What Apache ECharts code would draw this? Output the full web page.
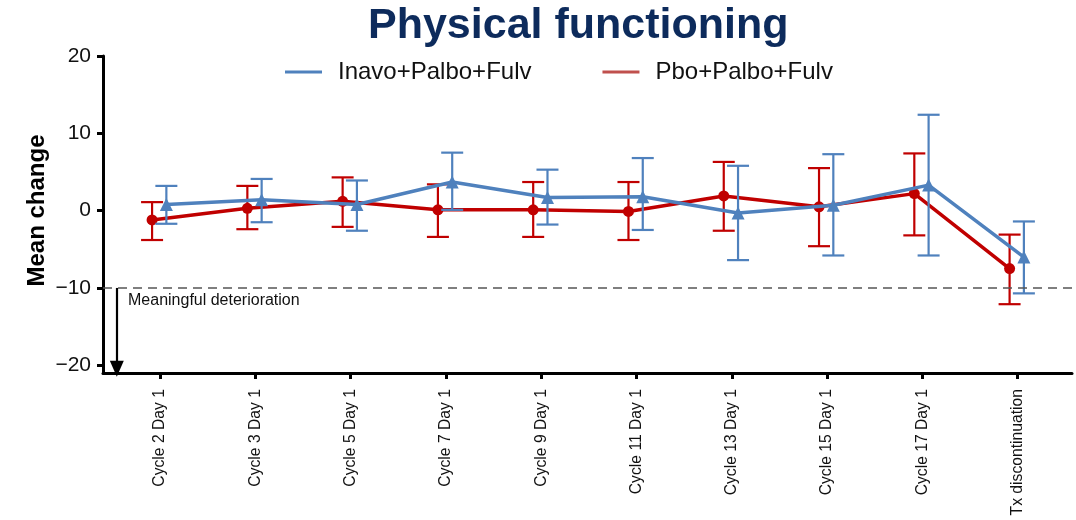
<!DOCTYPE html>
<html>
<head>
<meta charset="utf-8">
<script src="https://cdn.jsdelivr.net/npm/echarts@6/dist/echarts.min.js"></script>
<style>
html,body{margin:0;padding:0;background:#fff;}
#chart{width:1076px;height:520px;}
</style>
</head>
<body>
<div id="chart"></div>
<script>
const categories = ['Cycle 2 Day 1','Cycle 3 Day 1','Cycle 5 Day 1','Cycle 7 Day 1','Cycle 9 Day 1','Cycle 11 Day 1','Cycle 13 Day 1','Cycle 15 Day 1','Cycle 17 Day 1','Tx discontinuation'];
const yTicks = [-20, -10, 0, 10, 20];
const inavoMean = [0.8, 1.4, 0.8, 3.7, 1.7, 1.8, -0.3, 0.7, 3.3, -6.0];
const inavoLow  = [-1.7, -1.5, -2.6, 0.1, -1.8, -2.5, -6.4, -5.8, -5.8, -10.7];
const inavoHigh = [3.2, 4.1, 3.9, 7.5, 5.3, 6.8, 5.8, 7.3, 12.4, -1.4];
const pboMean = [-1.2, 0.3, 1.2, 0.1, 0.1, -0.1, 1.9, 0.5, 2.2, -7.5];
const pboLow  = [-3.8, -2.4, -2.1, -3.4, -3.4, -3.8, -2.6, -4.6, -3.2, -12.1];
const pboHigh = [1.1, 3.2, 4.3, 3.4, 3.7, 3.7, 6.3, 5.5, 7.4, -3.1];
const threshold = -10;

const BLUE = '#4F81BD', RED = '#C00000';
const offInavo = 0.065, offPbo = -0.085;
const FONT = '"Liberation Sans", Arial, sans-serif';

function lineData(vals, off) { return vals.map((v, i) => [i + off, v]); }
function errData(lo, hi, off) { return lo.map((v, i) => [i + off, v, hi[i]]); }
function errRender(color) {
  return function (params, api) {
    const x = api.value(0), lo = api.value(1), hi = api.value(2);
    const p1 = api.coord([x, hi]), p2 = api.coord([x, lo]);
    const hw = 11;
    const st = { stroke: color, lineWidth: 2.2 };
    return { type: 'group', children: [
      { type: 'line', shape: { x1: p1[0], y1: p1[1], x2: p2[0], y2: p2[1] }, style: st },
      { type: 'line', shape: { x1: p1[0] - hw, y1: p1[1], x2: p1[0] + hw, y2: p1[1] }, style: st },
      { type: 'line', shape: { x1: p2[0] - hw, y1: p2[1], x2: p2[0] + hw, y2: p2[1] }, style: st }
    ]};
  };
}

const chart = echarts.init(document.getElementById('chart'), null, { renderer: 'canvas' });
chart.setOption({
  animation: false,
  backgroundColor: '#fff',
  textStyle: { fontFamily: FONT },
  title: {
    text: 'Physical functioning', left: 363, top: 0,
    textStyle: { fontFamily: FONT, fontSize: 43, fontWeight: 'bold', color: '#0D2B5C' }
  },
  legend: {
    left: 280, top: 55, icon: 'rect', itemWidth: 37, itemHeight: 3, itemGap: 71,
    textStyle: { fontFamily: FONT, fontSize: 24, color: '#111', padding: [0, 0, 0, 11] },
    data: [
      { name: 'Inavo+Palbo+Fulv', itemStyle: { color: BLUE } },
      { name: 'Pbo+Palbo+Fulv', itemStyle: { color: '#C0504D' } }
    ]
  },
  grid: { left: 103, right: 4, top: 56, bottom: 147 },
  xAxis: {
    type: 'value', min: -0.6, max: 9.57,
    splitLine: { show: false },
    axisLine: { onZero: false, lineStyle: { color: '#000', width: 3 } },
    axisTick: { show: true, length: 6, lineStyle: { color: '#000', width: 3 }, customValues: categories.map((c, i) => i) },
    axisLabel: {
      customValues: categories.map((c, i) => i), rotate: 90, margin: 16,
      fontFamily: FONT, fontSize: 15.7, color: '#111',
      formatter: v => categories[Math.round(v)]
    }
  },
  yAxis: {
    type: 'value', min: -21, max: 20,
    name: 'Mean change', nameLocation: 'middle', nameGap: 54, nameRotate: 90, nameMoveOverlap: false,
    nameTextStyle: { fontFamily: FONT, fontSize: 24, fontWeight: 'bold', color: '#000', padding: [0, 0, 0, 8] },
    splitLine: { show: false },
    axisLine: { onZero: false, lineStyle: { color: '#000', width: 3 } },
    axisTick: { show: true, length: 6, lineStyle: { color: '#000', width: 3 }, customValues: yTicks },
    axisLabel: {
      customValues: yTicks, margin: 12, fontFamily: FONT, fontSize: 21, color: '#111',
      formatter: v => String(v).replace('-', '\u2212')
    }
  },
  series: [
    {
      name: 'Pbo+Palbo+Fulv', type: 'custom', renderItem: errRender(RED),
      data: errData(pboLow, pboHigh, offPbo), encode: { x: 0, y: [1, 2] }, z: 2
    },
    {
      name: 'Pbo+Palbo+Fulv', type: 'line', data: lineData(pboMean, offPbo),
      symbol: 'circle', symbolSize: 11,
      lineStyle: { color: RED, width: 3.5 }, itemStyle: { color: RED }, z: 3,
      markLine: {
        silent: true, symbol: 'none', animation: false,
        data: [
          {
            yAxis: threshold,
            lineStyle: { color: '#555', width: 1.5, type: [9, 6] },
            label: {
              show: true, formatter: 'Meaningful deterioration', position: 'insideStartBottom',
              fontFamily: FONT, fontSize: 16, color: '#111', distance: [25, 5]
            }
          },
          [
            { coord: [-0.455, threshold], symbol: 'none', lineStyle: { color: '#000', width: 2.2, type: 'solid' }, label: { show: false } },
            { coord: [-0.455, -20.45], symbol: 'triangle', symbolSize: [14, 16], symbolRotate: 180 }
          ]
        ]
      }
    },
    {
      name: 'Inavo+Palbo+Fulv', type: 'custom', renderItem: errRender(BLUE),
      data: errData(inavoLow, inavoHigh, offInavo), encode: { x: 0, y: [1, 2] }, z: 4
    },
    {
      name: 'Inavo+Palbo+Fulv', type: 'line', data: lineData(inavoMean, offInavo),
      symbol: 'triangle', symbolSize: 13,
      lineStyle: { color: BLUE, width: 3.5 }, itemStyle: { color: BLUE }, z: 5
    }
  ]
});
</script>
</body>
</html>
